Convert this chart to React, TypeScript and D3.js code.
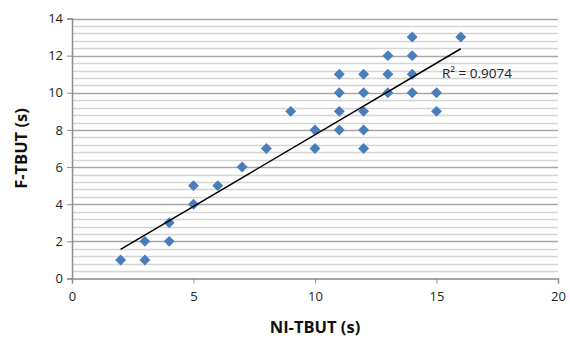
import { useRef, useEffect } from "react";
import * as d3 from "d3";

// NI-TBUT (x) vs F-TBUT (y), seconds
const niTbut = [2, 3, 3, 4, 4, 5, 5, 6, 7, 8, 9, 10, 10, 11, 11, 11, 11, 12, 12, 12, 12, 12, 13, 13, 13, 14, 14, 14, 14, 15, 15, 16];
const fTbut = [1, 1, 2, 2, 3, 4, 5, 5, 6, 7, 9, 8, 7, 11, 10, 9, 8, 11, 10, 9, 8, 7, 12, 11, 10, 13, 12, 11, 10, 10, 9, 13];

const xTicks = [0, 5, 10, 15, 20];
const yTicks = [0, 2, 4, 6, 8, 10, 12, 14];

// linear trendline
const trendSlope = 0.772;
const trendIntercept = 0.02;
const rSquaredLabel = "R² = 0.9074";

const xTitle = "NI-TBUT (s)";
const yTitle = "F-TBUT (s)";

const W = 570;
const H = 338;
const FONT = "'Open Sans', 'Noto Sans', sans-serif";

export default function App() {
  const svgRef = useRef<SVGSVGElement>(null);

  useEffect(() => {
    if (!svgRef.current) return;
    const svg = d3.select(svgRef.current);
    svg.selectAll("*").remove();

    const x = d3.scaleLinear().domain([0, 20]).range([72, 558]);
    const y = d3.scaleLinear().domain([0, 14]).range([278.5, 18.5]);

    // minor gridlines every 0.4
    const minor = d3.range(1, 35).map((i) => +(i * 0.4).toFixed(1)).filter((v) => Math.abs(v / 2 - Math.round(v / 2)) > 1e-6);
    svg.append("g")
      .selectAll("line")
      .data(minor)
      .enter()
      .append("line")
      .attr("x1", x(0))
      .attr("x2", x(20))
      .attr("y1", (d) => Math.round(y(d)) + 0.5)
      .attr("y2", (d) => Math.round(y(d)) + 0.5)
      .attr("stroke", "#d4d4d4")
      .attr("stroke-width", 1.5);

    // major gridlines
    svg.append("g")
      .selectAll("line")
      .data(yTicks.filter((d) => d > 0))
      .enter()
      .append("line")
      .attr("x1", x(0))
      .attr("x2", x(20))
      .attr("y1", (d) => Math.round(y(d)) + 0.5)
      .attr("y2", (d) => Math.round(y(d)) + 0.5)
      .attr("stroke", "#a6a6a6")
      .attr("stroke-width", 1.5);

    // Y axis
    const yAxis = svg.append("g")
      .attr("transform", `translate(${x(0)},0)`)
      .call(d3.axisLeft(y).tickValues(yTicks).tickSize(5).tickPadding(4));
    yAxis.select(".domain").attr("stroke", "#8c8c8c").attr("stroke-width", 1.5);
    yAxis.selectAll(".tick line").attr("stroke", "#8c8c8c");
    yAxis.selectAll("text").attr("font-family", FONT).attr("font-size", 13).attr("fill", "#222");

    // X axis
    const xAxis = svg.append("g")
      .attr("transform", `translate(0,${y(0)})`)
      .call(d3.axisBottom(x).tickValues(xTicks).tickSize(5).tickPadding(8));
    xAxis.select(".domain").attr("stroke", "#8c8c8c").attr("stroke-width", 1.5);
    xAxis.selectAll(".tick line").attr("stroke", "#8c8c8c");
    xAxis.selectAll("text").attr("font-family", FONT).attr("font-size", 13).attr("fill", "#222");

    // points
    const pts = niTbut.map((v, i) => ({ x: v, y: fTbut[i] }));
    const diamond = d3.symbol().type(d3.symbolDiamond2).size(76);
    svg.append("g")
      .selectAll("path")
      .data(pts)
      .enter()
      .append("path")
      .attr("transform", (d) => `translate(${x(d.x)},${y(d.y)})`)
      .attr("d", diamond)
      .attr("fill", "#4a7ebb");

    // trendline
    const [xmin, xmax] = d3.extent(niTbut) as [number, number];
    svg.append("line")
      .attr("x1", x(xmin))
      .attr("y1", y(trendSlope * xmin + trendIntercept))
      .attr("x2", x(xmax))
      .attr("y2", y(trendSlope * xmax + trendIntercept))
      .attr("stroke", "#000")
      .attr("stroke-width", 1.5);

    svg.append("text")
      .attr("x", 442)
      .attr("y", 78)
      .attr("font-family", FONT)
      .attr("font-size", 13.5)
      .attr("fill", "#222")
      .text(rSquaredLabel);

    // titles
    svg.append("text")
      .attr("x", 315)
      .attr("y", 333)
      .attr("text-anchor", "middle")
      .attr("font-family", FONT)
      .attr("font-weight", "bold")
      .attr("font-size", 16.5)
      .attr("fill", "#111")
      .text(xTitle);

    svg.append("text")
      .attr("transform", "translate(27,148.5) rotate(-90)")
      .attr("text-anchor", "middle")
      .attr("font-family", FONT)
      .attr("font-weight", "bold")
      .attr("font-size", 16.5)
      .attr("fill", "#111")
      .text(yTitle);
  }, []);

  return (
    <svg
      ref={svgRef}
      width={W}
      height={H}
      style={{ position: "absolute", left: 0, top: 0, background: "#fff" }}
    />
  );
}
